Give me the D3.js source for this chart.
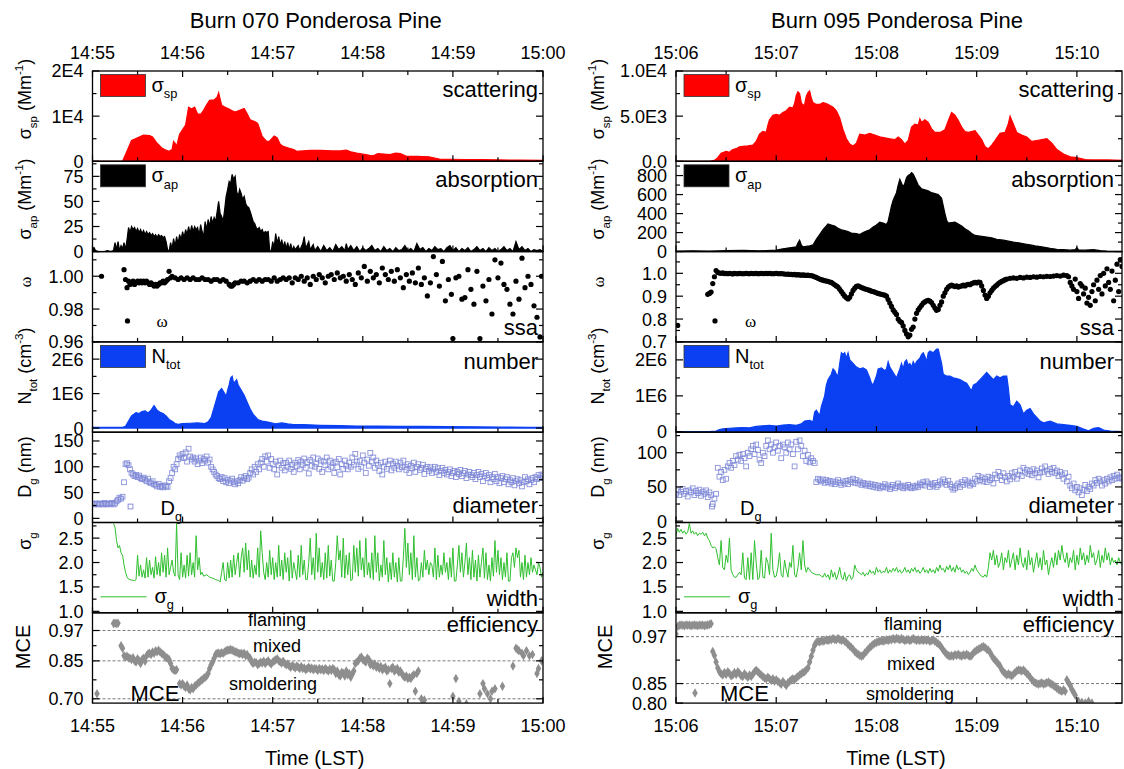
<!DOCTYPE html>
<html>
<head>
<meta charset="utf-8">
<script src="https://cdn.jsdelivr.net/npm/d3@7"></script>
<style>
  body { margin: 0; background: #fff; }
  svg { display: block; }
  text { font-family: "Liberation Sans", Arial, sans-serif; fill: #000; }
</style>
</head>
<body>
<script>
// ---- data: [seconds after start of the window, value] ----
// Burn 070 (window starts 14:55:00)
var sca070 = [[0,0],[20,0],[22,1500],[26,4600],[30,5200],[34,5800],[38,5700],[40,5400],[43,4000],[46,3000],[48,2600],[51,2200],[53,2600],[54,4400],[55,4000],[56,3300],[58,6000],[60,7000],[62,8000],[64,12000],[66,11600],[68,12000],[70,10500],[72,10400],[74,11300],[76,12500],[78,13500],[81,13600],[83,14200],[84,15200],[86,12400],[88,12000],[91,11600],[93,11200],[95,10900],[98,11300],[101,11700],[103,10500],[105,9200],[108,8800],[110,8400],[112,6500],[113,5500],[116,4400],[118,4500],[121,5600],[123,5200],[125,3800],[127,3300],[131,2900],[134,2600],[136,2200],[140,2300],[145,2400],[152,2400],[160,2300],[165,2300],[169,2500],[172,2100],[176,1800],[182,1500],[186,1200],[188,1400],[190,1700],[194,1600],[198,1500],[202,1800],[205,1700],[209,1100],[216,1100],[224,1000],[228,700],[231,500],[240,450],[248,400],[260,350],[271,300],[285,250],[300,200]];
var abs070 = [[0,3],[1,4],[2,1],[4,0],[8,0],[10,1],[12,0],[14,1],[15,9],[16,2],[17,10],[18,1],[19,6],[20,3],[21,9],[22,2],[23,12],[24,24],[25,19],[26,25],[27,22],[28,24],[29,20],[30,23],[31,19],[32,22],[33,18],[34,21],[35,17],[36,20],[37,17],[38,19],[39,16],[40,18],[41,15],[42,17],[43,14],[44,17],[45,15],[46,16],[47,14],[48,15],[49,10],[50,2],[51,0],[52,9],[53,3],[54,13],[55,5],[56,15],[57,8],[58,17],[59,12],[60,20],[61,14],[62,22],[63,17],[64,25],[65,18],[66,26],[67,20],[68,25],[69,22],[70,24],[71,16],[72,27],[73,20],[74,15],[75,30],[76,22],[77,32],[78,25],[79,35],[80,28],[81,34],[82,30],[83,40],[84,50],[85,38],[86,35],[87,30],[88,42],[89,55],[90,62],[91,70],[92,68],[93,77],[94,72],[95,75],[96,60],[97,55],[98,62],[99,58],[100,52],[101,55],[102,48],[103,45],[104,44],[105,40],[106,35],[107,30],[108,28],[109,24],[110,22],[111,24],[112,20],[113,22],[114,18],[115,20],[116,19],[117,20],[118,1],[119,0],[120,10],[121,4],[122,18],[123,8],[124,15],[125,6],[126,12],[127,4],[128,10],[129,3],[130,9],[131,2],[132,8],[133,1],[134,5],[135,2],[137,6],[138,1],[140,8],[141,15],[142,3],[144,10],[145,2],[147,7],[148,1],[150,5],[152,0],[154,6],[156,1],[158,4],[160,0],[162,7],[164,2],[166,5],[168,1],[169,8],[170,2],[172,6],[174,1],[176,5],[178,0],[180,4],[182,1],[184,3],[186,6],[188,1],[190,3],[192,0],[194,5],[196,1],[198,3],[200,0],[202,4],[204,1],[206,2],[208,6],[210,1],[212,3],[214,0],[216,8],[218,2],[220,4],[222,0],[224,3],[226,1],[228,5],[230,2],[232,3],[234,0],[236,4],[238,6],[240,1],[242,4],[244,0],[246,3],[248,1],[250,4],[252,0],[254,2],[256,5],[258,1],[260,3],[262,0],[264,4],[266,1],[268,3],[270,0],[272,2],[274,5],[276,1],[278,3],[280,0],[282,10],[284,2],[286,5],[288,1],[290,3],[292,0],[294,2],[296,1],[298,2],[300,0]];
var ssa070 = [[6,1.000],[21,1.004],[22,0.998],[23,0.993],[24,0.997],[25,0.995],[26,0.996],[27,0.997],[28,0.995],[29,0.996],[30,0.997],[31,0.996],[32,0.997],[33,0.996],[34,0.997],[35,0.996],[36,0.997],[37,0.996],[38,0.995],[39,0.996],[40,0.995],[41,0.994],[42,0.995],[43,0.994],[44,0.995],[45,0.996],[46,0.996],[47,0.997],[48,0.996],[49,0.997],[50,0.998],[51,1.003],[52,0.999],[53,1.000],[55,0.999],[57,0.998],[59,0.999],[61,0.998],[63,0.999],[65,0.998],[67,0.999],[69,0.998],[71,0.998],[73,0.999],[75,0.998],[77,0.998],[79,0.997],[81,0.998],[83,0.998],[85,0.997],[87,0.998],[89,0.997],[91,0.995],[92,0.994],[93,0.994],[94,0.995],[95,0.996],[97,0.996],[99,0.997],[101,0.997],[103,0.996],[105,0.997],[107,0.998],[109,0.997],[111,0.998],[113,0.997],[115,0.998],[117,0.998],[119,0.997],[121,0.999],[123,0.997],[125,0.998],[127,0.999],[129,0.998],[131,0.999],[133,0.996],[135,0.999],[137,0.998],[139,1.000],[141,0.997],[143,0.999],[145,0.995],[147,1.000],[149,0.998],[151,1.001],[153,0.999],[155,0.996],[157,1.000],[159,1.001],[161,0.998],[163,1.002],[165,0.999],[167,1.000],[169,0.997],[171,1.001],[173,0.998],[175,0.995],[177,1.002],[179,0.999],[181,1.006],[183,0.997],[185,1.003],[187,0.999],[189,1.001],[191,0.996],[193,1.005],[195,1.001],[197,0.998],[199,1.003],[201,0.997],[203,1.004],[205,0.999],[207,0.993],[209,1.001],[211,0.997],[213,1.002],[215,0.996],[217,1.005],[219,0.995],[221,0.999],[223,0.988],[225,0.996],[227,1.012],[229,1.001],[231,0.994],[233,1.009],[235,0.985],[237,0.998],[239,0.989],[240,0.962],[242,0.999],[244,1.000],[246,0.986],[248,0.987],[250,1.004],[252,0.992],[254,0.983],[256,1.003],[258,0.962],[260,0.994],[262,0.985],[264,0.998],[266,0.977],[268,1.010],[270,0.999],[272,1.008],[274,0.995],[276,0.992],[278,0.983],[280,0.977],[282,0.997],[284,0.986],[286,1.011],[288,0.993],[290,1.000],[292,0.995],[294,0.982],[296,0.975],[298,0.963],[299,1.000]];
var num070 = [[0,2e4],[20,2e4],[22,5e4],[24,2e5],[26,3.5e5],[29,4.5e5],[31,4.2e5],[33,4.8e5],[35,5e5],[37,4.4e5],[39,5.2e5],[41,6.5e5],[43,5.2e5],[45,4.6e5],[47,4.2e5],[49,3.5e5],[51,2.5e5],[53,2e5],[55,1.3e5],[57,1.1e5],[60,1.3e5],[65,1.4e5],[70,1.5e5],[75,1.3e5],[77,1.8e5],[79,3e5],[81,6e5],[83,9e5],[84,1.05e6],[86,1.15e6],[88,1.0e6],[89,0.92e6],[90,1.1e6],[91,1.25e6],[92,1.45e6],[93,1.5e6],[94,1.3e6],[95,1.35e6],[96,1.4e6],[97,1.25e6],[99,1.1e6],[101,0.95e6],[103,0.75e6],[105,0.55e6],[107,0.4e6],[110,0.25e6],[113,0.2e6],[116,0.18e6],[119,0.15e6],[122,0.12e6],[126,0.15e6],[130,0.12e6],[134,0.1e6],[140,0.1e6],[152,0.08e6],[165,0.07e6],[176,0.06e6],[190,0.06e6],[205,0.05e6],[220,0.05e6],[236,0.04e6],[255,0.035e6],[271,0.03e6],[290,0.02e6],[300,0.02e6]];
var dia070 = [[0,28],[1,27],[2,29],[3,28],[4,27],[5,29],[6,28],[7,27],[8,30],[9,28],[10,27],[11,29],[12,28],[13,30],[14,27],[15,29],[16,33],[17,36],[18,40],[19,38],[20,42],[21,70],[22,105],[23,107],[24,103],[25,95],[26,88],[27,85],[28,82],[29,84],[30,80],[31,83],[32,78],[33,76],[34,79],[35,75],[36,72],[37,77],[38,70],[39,68],[40,72],[41,66],[42,65],[43,62],[44,67],[45,61],[46,63],[47,60],[48,64],[49,62],[50,61],[51,72],[52,78],[53,88],[54,100],[55,95],[56,105],[57,115],[58,122],[59,118],[60,125],[61,117],[62,128],[63,110],[64,135],[65,120],[66,114],[67,118],[68,110],[69,116],[70,105],[71,112],[72,118],[73,107],[74,115],[75,112],[76,120],[77,108],[78,114],[79,100],[80,95],[81,90],[82,85],[83,82],[84,78],[85,76],[86,80],[87,72],[88,78],[89,70],[90,75],[91,68],[92,73],[93,77],[94,70],[95,66],[96,72],[97,68],[98,74],[99,80],[100,73],[101,78],[102,82],[103,76],[104,79],[105,88],[106,95],[107,85],[108,100],[109,90],[110,105],[111,95],[112,108],[113,115],[114,100],[115,120],[116,110],[117,122],[118,98],[119,115],[120,105],[121,95],[122,110],[123,85],[124,103],[125,112],[126,98],[127,107],[128,93],[129,108],[130,100],[131,112],[132,96],[133,104],[134,90],[135,108],[136,101],[137,113],[138,95],[139,110],[140,104],[141,116],[142,98],[143,109],[144,87],[145,113],[146,102],[147,118],[148,100],[149,106],[150,116],[151,96],[152,112],[153,90],[154,110],[155,103],[156,118],[157,95],[158,112],[159,100],[160,107],[161,88],[162,110],[163,99],[164,115],[165,85],[166,105],[167,96],[168,112],[169,102],[170,95],[171,108],[172,100],[173,118],[174,104],[175,125],[176,110],[177,96],[178,112],[179,100],[180,122],[181,108],[182,88],[183,114],[184,102],[185,127],[186,110],[187,118],[188,98],[189,112],[190,104],[191,92],[192,108],[193,85],[194,100],[195,110],[196,96],[197,105],[198,112],[199,93],[200,106],[201,98],[202,110],[203,102],[204,95],[205,108],[206,99],[207,112],[208,100],[209,94],[210,105],[211,88],[212,102],[213,97],[214,108],[215,90],[216,100],[217,105],[218,94],[219,98],[220,104],[221,86],[222,96],[223,100],[224,92],[225,99],[226,88],[227,95],[228,100],[229,90],[230,97],[231,84],[232,92],[233,98],[234,88],[235,94],[236,85],[237,90],[238,95],[239,82],[240,88],[241,92],[242,80],[243,90],[244,86],[245,94],[246,82],[247,88],[248,92],[249,78],[250,85],[251,90],[252,84],[253,80],[254,88],[255,76],[256,84],[257,90],[258,80],[259,86],[260,72],[261,82],[262,88],[263,78],[264,84],[265,70],[266,80],[267,76],[268,86],[269,72],[270,80],[271,68],[272,78],[273,82],[274,70],[275,76],[276,80],[277,66],[278,74],[279,70],[280,78],[281,64],[282,72],[283,76],[284,68],[285,74],[286,62],[287,70],[288,80],[289,72],[290,76],[291,66],[292,74],[293,78],[294,70],[295,80],[296,76],[297,84],[298,78],[299,85],[300,82]];
var wid070 = [[14,2.8],[15,2.72],[16,2.45],[17,2.3],[18,2.35],[19,2.2],[20,2.15],[21,1.95],[22,1.8],[23,1.7],[24,1.66],[26,1.64],[28,1.63],[29,1.65],[30,2.15],[31,1.72],[32,1.95],[33,1.7],[34,1.85],[35,1.68],[36,2.1],[37,1.7],[38,2.05],[39,1.75],[40,1.9],[41,1.68],[42,2.12],[43,1.75],[44,2.0],[45,1.72],[46,2.2],[47,1.8],[48,2.15],[49,1.7],[50,2.3],[51,1.75],[52,1.9],[53,2.05],[54,1.8],[55,1.72],[56,2.8],[57,1.75],[58,1.65],[59,2.2],[60,1.7],[61,1.95],[62,1.68],[63,2.15],[64,1.72],[65,2.2],[66,1.75],[67,2.0],[68,1.7],[69,2.55],[70,1.85],[71,2.1],[72,1.75],[73,1.8],[74,1.72],[76,1.75],[78,1.7],[80,1.68],[82,1.65],[84,1.63],[85,1.6],[86,1.8],[87,2.0],[88,1.65],[89,1.62],[90,2.0],[91,1.68],[92,2.05],[93,1.7],[94,2.15],[95,1.75],[96,2.0],[97,2.2],[98,1.7],[99,2.1],[100,2.3],[101,1.8],[102,2.4],[103,1.85],[104,2.25],[105,1.7],[106,2.05],[107,1.68],[108,1.95],[109,1.75],[110,2.3],[111,1.7],[112,2.65],[113,2.2],[114,1.8],[115,1.65],[116,2.0],[117,1.7],[118,2.25],[119,1.75],[120,2.1],[121,1.65],[122,2.0],[123,1.7],[124,2.35],[125,1.72],[126,2.05],[127,1.65],[128,2.2],[129,1.8],[130,2.1],[131,1.62],[132,2.25],[133,1.68],[134,2.0],[136,1.65],[137,2.15],[138,1.7],[139,2.35],[140,1.75],[141,2.05],[142,1.65],[143,1.65],[144,2.0],[145,2.5],[146,1.75],[147,2.1],[148,1.65],[149,2.6],[150,1.8],[151,2.3],[152,1.7],[153,2.0],[154,1.65],[155,2.2],[156,1.68],[157,2.35],[158,1.72],[159,2.05],[160,1.62],[161,1.62],[162,2.0],[163,2.55],[164,2.05],[165,2.25],[166,1.7],[167,2.5],[168,1.68],[169,2.15],[170,1.75],[171,2.2],[172,1.63],[173,1.65],[174,2.35],[175,1.8],[176,2.3],[177,1.72],[178,2.45],[179,1.85],[180,2.1],[181,1.7],[182,2.5],[183,1.75],[184,2.0],[185,1.68],[186,2.2],[187,1.65],[188,2.55],[189,1.8],[190,2.2],[191,1.62],[192,1.95],[193,1.7],[194,2.45],[195,1.75],[196,2.1],[197,1.6],[198,2.0],[199,1.65],[200,2.2],[201,1.7],[202,2.0],[203,1.6],[204,2.1],[205,1.62],[206,1.62],[207,2.1],[208,2.7],[209,1.9],[210,2.4],[211,1.75],[212,2.2],[213,1.65],[214,2.55],[215,1.7],[216,2.1],[217,1.62],[218,1.65],[219,2.0],[220,1.7],[221,2.25],[222,1.85],[223,2.05],[224,1.75],[225,2.0],[226,1.95],[227,1.7],[228,2.3],[229,1.65],[230,2.15],[231,1.7],[232,1.95],[233,1.75],[234,2.2],[235,1.8],[236,2.0],[237,1.65],[238,2.1],[239,1.7],[240,2.3],[241,1.62],[242,1.62],[243,1.95],[244,2.35],[245,1.8],[246,2.2],[247,1.7],[248,2.0],[249,2.4],[250,1.75],[251,2.1],[252,1.65],[253,2.25],[254,1.7],[255,2.05],[256,1.62],[257,2.15],[258,1.7],[259,2.0],[260,2.3],[261,1.68],[262,2.2],[263,1.65],[264,1.95],[265,1.62],[266,2.1],[267,1.72],[268,2.45],[269,1.8],[270,2.25],[271,1.75],[272,2.1],[273,1.65],[274,2.0],[275,1.7],[276,2.2],[277,1.62],[278,1.62],[279,2.1],[280,2.2],[281,1.9],[282,2.3],[283,2.1],[284,2.25],[285,1.7],[286,2.0],[287,1.65],[288,2.15],[289,1.7],[290,2.0],[291,1.75],[292,2.1],[293,1.8],[294,1.95],[295,1.85],[296,1.75],[297,2.0],[298,1.9],[299,1.7],[300,1.8]];
var mce070 = [[3,0.72],[14,0.998],[15,0.999],[16,0.998],[17,0.999],[19,0.91],[20,0.90],[21,0.87],[22,0.865],[23,0.868],[24,0.862],[25,0.86],[26,0.855],[27,0.862],[28,0.85],[29,0.845],[30,0.858],[31,0.85],[32,0.84],[33,0.855],[34,0.86],[35,0.848],[36,0.87],[37,0.878],[38,0.88],[39,0.875],[40,0.885],[41,0.88],[42,0.89],[43,0.886],[44,0.892],[45,0.885],[46,0.88],[47,0.875],[48,0.87],[49,0.862],[50,0.86],[51,0.855],[52,0.84],[53,0.82],[54,0.815],[55,0.812],[56,0.815],[58,0.76],[59,0.755],[60,0.76],[61,0.75],[62,0.745],[63,0.755],[64,0.74],[65,0.735],[66,0.745],[67,0.74],[68,0.75],[69,0.755],[70,0.76],[71,0.765],[72,0.77],[73,0.775],[74,0.78],[75,0.785],[76,0.79],[77,0.80],[78,0.82],[79,0.835],[80,0.845],[81,0.86],[82,0.875],[83,0.88],[84,0.88],[85,0.878],[86,0.882],[87,0.88],[88,0.885],[89,0.89],[90,0.892],[91,0.893],[92,0.895],[93,0.892],[94,0.89],[95,0.885],[96,0.885],[97,0.88],[98,0.878],[99,0.88],[100,0.875],[101,0.88],[102,0.87],[103,0.875],[104,0.865],[105,0.86],[106,0.845],[107,0.84],[108,0.845],[109,0.843],[110,0.835],[111,0.84],[112,0.845],[113,0.842],[114,0.848],[115,0.84],[116,0.845],[117,0.85],[118,0.843],[119,0.838],[120,0.845],[121,0.85],[122,0.853],[123,0.858],[124,0.85],[125,0.845],[126,0.842],[127,0.848],[128,0.84],[129,0.835],[130,0.838],[131,0.83],[132,0.825],[133,0.832],[134,0.828],[135,0.822],[136,0.83],[137,0.825],[138,0.82],[139,0.828],[140,0.82],[141,0.822],[142,0.815],[143,0.82],[144,0.825],[145,0.818],[146,0.822],[147,0.815],[148,0.82],[149,0.818],[150,0.812],[151,0.82],[152,0.815],[153,0.818],[154,0.812],[155,0.82],[156,0.815],[157,0.81],[158,0.818],[159,0.812],[160,0.82],[161,0.815],[162,0.80],[163,0.81],[164,0.795],[165,0.79],[166,0.805],[167,0.80],[168,0.79],[169,0.81],[170,0.795],[171,0.80],[172,0.785],[173,0.798],[174,0.81],[175,0.84],[176,0.845],[177,0.85],[178,0.86],[179,0.865],[180,0.855],[181,0.85],[182,0.845],[183,0.86],[184,0.855],[185,0.835],[186,0.84],[187,0.83],[188,0.838],[189,0.825],[190,0.83],[191,0.82],[192,0.828],[193,0.815],[194,0.82],[195,0.825],[196,0.81],[197,0.815],[198,0.76],[199,0.82],[200,0.825],[201,0.81],[202,0.815],[203,0.82],[204,0.805],[205,0.81],[206,0.80],[207,0.79],[208,0.785],[209,0.79],[210,0.78],[211,0.785],[212,0.78],[213,0.79],[214,0.795],[215,0.73],[216,0.80],[217,0.81],[219,0.70],[220,0.69],[221,0.695],[240,0.71],[242,0.78],[244,0.69],[249,0.68],[258,0.72],[260,0.76],[261,0.74],[263,0.72],[265,0.70],[266,0.73],[268,0.74],[273,0.75],[280,0.83],[282,0.90],[283,0.895],[284,0.89],[286,0.88],[287,0.87],[289,0.89],[291,0.87],[293,0.875],[296,0.80],[297,0.82],[299,0.85]];

// Burn 095 (window starts 15:06:00)
var sca095 = [[0,0],[20,0],[23,100],[25,400],[27,900],[30,1100],[32,1000],[34,1300],[36,1400],[38,1600],[40,1650],[43,1700],[46,1800],[48,2200],[50,3000],[52,3300],[54,3200],[55,4000],[56,4600],[58,5100],[60,5200],[62,5100],[64,5400],[66,5600],[68,6000],[70,5900],[71,6400],[72,7300],[73,7700],[74,7500],[75,6500],[76,6200],[77,6300],[78,7200],[79,7600],[80,7800],[81,7000],[82,6500],[84,6300],[86,6300],[88,6500],[90,6400],[92,6200],[94,6000],[96,5600],[98,4800],[100,3500],[102,2500],[104,1900],[106,1700],[108,2000],[110,3000],[113,2900],[116,3100],[119,2900],[122,2700],[125,2600],[128,2500],[131,2400],[133,2700],[135,2400],[137,1900],[139,2300],[141,3800],[143,4100],[145,4000],[146,4700],[147,4300],[149,4600],[151,4300],[153,3600],[155,3200],[158,3200],[161,3500],[163,4500],[165,5400],[167,5100],[169,4500],[171,3800],[173,3300],[175,3200],[177,3300],[179,3400],[181,2900],[183,2400],[185,1600],[187,1400],[189,1800],[191,2300],[194,3100],[197,3200],[199,4200],[200,5000],[202,4100],[204,3200],[207,2900],[210,2700],[213,2200],[216,2300],[219,2400],[222,2500],[225,2000],[228,1300],[232,800],[236,500],[240,400],[245,200],[250,150],[258,150],[267,100]];
var abs095 = [[0,5],[10,8],[20,5],[30,10],[40,12],[50,8],[60,15],[64,30],[68,40],[72,50],[73,90],[74,120],[75,70],[76,50],[78,55],[80,60],[82,70],[84,130],[86,180],[88,230],[90,270],[91,290],[93,280],[95,270],[97,245],[99,230],[101,220],[103,210],[105,195],[108,190],[110,180],[112,200],[114,215],[116,230],[118,260],[120,280],[122,310],[124,300],[126,285],[127,320],[128,400],[129,480],[130,540],[131,580],[132,620],[133,700],[134,760],[135,720],[136,680],[137,720],[138,780],[139,800],[140,810],[141,830],[142,815],[143,780],[144,740],[145,700],[146,680],[147,660],[149,650],[151,640],[153,620],[155,610],[157,600],[159,560],[160,480],[161,400],[162,330],[163,300],[165,305],[167,310],[169,290],[171,270],[173,240],[175,220],[177,190],[179,170],[181,165],[183,160],[185,155],[187,150],[189,145],[192,130],[196,120],[199,110],[202,100],[206,90],[209,80],[212,70],[215,60],[219,50],[224,35],[228,25],[232,20],[236,15],[239,20],[240,40],[241,18],[245,15],[250,20],[254,10],[258,5],[267,3]];
var ssa095 = [[1,0.772],[19,0.908],[20,0.912],[21,0.918],[22,0.955],[23,0.985],[24,1.012],[25,1.004],[26,1.001],[27,1.0],[28,1.002],[29,0.999],[30,1.0],[31,0.998],[32,1.0],[33,0.999],[34,0.997],[35,1.0],[36,0.999],[37,0.998],[38,1.0],[39,0.999],[40,0.998],[41,0.999],[42,1.0],[43,0.999],[44,0.998],[45,1.0],[46,0.999],[47,0.999],[48,1.0],[49,0.998],[50,0.999],[51,1.0],[52,0.999],[53,0.999],[54,1.0],[55,0.999],[56,1.0],[57,0.999],[58,0.998],[59,0.999],[60,1.0],[61,0.999],[62,0.998],[63,0.999],[64,0.998],[65,0.997],[66,0.996],[67,0.997],[68,0.995],[69,0.996],[70,0.994],[71,0.995],[72,0.993],[73,0.994],[74,0.993],[75,0.992],[76,0.993],[77,0.992],[78,0.991],[79,0.992],[80,0.99],[81,0.99],[82,0.988],[83,0.985],[84,0.982],[85,0.978],[86,0.975],[87,0.972],[88,0.97],[89,0.968],[90,0.966],[91,0.965],[92,0.962],[93,0.96],[94,0.955],[95,0.95],[96,0.945],[97,0.94],[98,0.93],[99,0.92],[100,0.91],[101,0.90],[102,0.893],[103,0.888],[104,0.895],[105,0.91],[106,0.925],[107,0.935],[108,0.943],[109,0.945],[110,0.942],[111,0.938],[112,0.935],[113,0.932],[114,0.93],[115,0.928],[116,0.925],[117,0.922],[118,0.92],[119,0.918],[120,0.915],[121,0.912],[122,0.91],[123,0.908],[124,0.906],[125,0.905],[126,0.9],[127,0.885],[128,0.87],[129,0.855],[130,0.84],[131,0.83],[132,0.82],[133,0.8],[134,0.79],[135,0.785],[136,0.77],[137,0.75],[138,0.735],[139,0.722],[140,0.73],[141,0.755],[142,0.765],[143,0.8],[144,0.825],[145,0.84],[146,0.85],[147,0.86],[148,0.87],[149,0.875],[150,0.88],[151,0.882],[152,0.878],[153,0.872],[154,0.86],[155,0.848],[156,0.838],[157,0.842],[158,0.86],[159,0.875],[160,0.9],[161,0.915],[162,0.93],[163,0.94],[164,0.945],[165,0.948],[166,0.945],[167,0.942],[168,0.945],[169,0.94],[170,0.943],[171,0.945],[172,0.948],[173,0.945],[174,0.95],[175,0.952],[176,0.95],[177,0.955],[178,0.958],[179,0.96],[180,0.958],[181,0.962],[182,0.96],[183,0.945],[184,0.925],[185,0.905],[186,0.89],[187,0.9],[188,0.915],[189,0.925],[190,0.935],[191,0.942],[192,0.948],[193,0.955],[194,0.96],[195,0.965],[196,0.968],[197,0.972],[198,0.975],[200,0.978],[202,0.98],[204,0.978],[206,0.982],[208,0.98],[210,0.983],[212,0.982],[214,0.985],[216,0.983],[218,0.986],[220,0.985],[222,0.987],[224,0.986],[226,0.988],[228,0.99],[230,0.988],[232,0.992],[234,0.99],[235,0.985],[236,0.96],[237,0.945],[238,0.93],[239,0.975],[240,0.92],[241,0.89],[242,0.955],[243,0.945],[244,0.91],[245,0.935],[246,0.87],[247,0.895],[248,0.86],[249,0.92],[250,0.95],[251,0.88],[252,0.97],[253,0.93],[254,0.99],[255,0.91],[256,1.0],[257,0.945],[258,1.02],[259,0.96],[260,0.93],[261,1.01],[262,0.88],[263,0.97],[264,1.04],[265,0.92],[266,1.06],[267,1.03]];
var num095 = [[0,5e3],[20,5e3],[24,2e4],[26,6e4],[28,8e4],[32,1e5],[36,1.1e5],[40,1.2e5],[44,1.1e5],[48,1.5e5],[52,1.7e5],[56,1.8e5],[60,1.6e5],[64,1.9e5],[68,2e5],[72,1.8e5],[75,2.2e5],[77,3e5],[80,3.2e5],[82,2.8e5],[83,5.5e5],[84,6e5],[86,4.5e5],[87,7e5],[89,1e6],[90,1.3e6],[91,1.45e6],[93,1.6e6],[94,1.75e6],[95,1.7e6],[96,1.6e6],[97,1.55e6],[98,1.9e6],[99,2.2e6],[100,2.15e6],[101,2.2e6],[102,2.05e6],[103,2.2e6],[104,2.0e6],[105,1.95e6],[106,1.9e6],[108,1.8e6],[110,1.75e6],[112,1.78e6],[114,1.72e6],[116,1.5e6],[117,1.35e6],[118,1.3e6],[120,1.55e6],[121,1.75e6],[123,1.78e6],[125,1.7e6],[126,1.75e6],[127,1.95e6],[128,1.8e6],[130,1.65e6],[132,1.5e6],[134,1.75e6],[135,1.9e6],[136,1.75e6],[137,1.95e6],[138,2.0e6],[139,1.85e6],[140,1.9e6],[141,1.8e6],[142,1.95e6],[143,1.85e6],[144,1.95e6],[146,2.05e6],[147,2.15e6],[148,2.2e6],[149,2.1e6],[150,1.95e6],[151,2.2e6],[152,2.25e6],[154,2.2e6],[156,2.3e6],[157,2.3e6],[158,2.1e6],[159,1.9e6],[160,1.6e6],[162,1.55e6],[164,1.55e6],[166,1.5e6],[168,1.48e6],[170,1.45e6],[172,1.4e6],[174,1.35e6],[176,1.2e6],[177,1.15e6],[178,1.3e6],[180,1.35e6],[182,1.45e6],[184,1.55e6],[186,1.65e6],[188,1.55e6],[190,1.45e6],[192,1.55e6],[194,1.5e6],[196,1.55e6],[198,1.55e6],[199,1.2e6],[200,0.75e6],[202,0.7e6],[204,0.85e6],[206,0.75e6],[208,0.5e6],[210,0.6e6],[212,0.65e6],[214,0.5e6],[216,0.4e6],[218,0.3e6],[220,0.25e6],[224,0.3e6],[228,0.22e6],[232,0.2e6],[236,0.18e6],[240,0.15e6],[244,0.08e6],[247,0.03e6],[250,0.1e6],[253,0.12e6],[256,0.05e6],[260,0.02e6],[267,0.01e6]];
var dia095 = [[0,40],[1,45],[2,38],[3,43],[4,47],[5,40],[6,44],[7,36],[8,45],[9,42],[10,48],[11,38],[12,44],[13,41],[14,46],[15,37],[16,43],[17,40],[18,45],[19,35],[20,42],[21,38],[22,25],[23,33],[24,40],[25,78],[26,65],[27,72],[28,60],[29,75],[30,62],[31,80],[32,85],[33,78],[34,88],[35,82],[36,95],[37,90],[38,97],[39,88],[40,98],[41,92],[42,80],[43,100],[44,95],[45,105],[46,110],[47,98],[48,112],[49,104],[50,90],[51,85],[52,100],[53,95],[54,110],[55,118],[56,105],[57,112],[58,100],[59,108],[60,115],[61,103],[62,110],[63,92],[64,112],[65,108],[66,100],[67,115],[68,105],[69,112],[70,98],[71,80],[72,116],[73,105],[74,118],[75,110],[76,95],[77,103],[78,88],[79,97],[80,86],[81,92],[82,88],[83,85],[84,57],[85,62],[86,60],[87,58],[88,61],[89,56],[90,60],[91,57],[92,59],[93,55],[94,58],[95,54],[96,57],[97,60],[98,56],[99,53],[100,58],[101,55],[102,59],[103,54],[104,60],[105,57],[106,62],[107,56],[108,60],[109,55],[110,58],[111,53],[112,56],[113,54],[114,52],[115,55],[116,51],[117,54],[118,50],[119,53],[120,49],[121,52],[122,48],[123,51],[124,50],[125,54],[126,49],[127,52],[128,47],[129,50],[130,53],[131,48],[132,51],[133,55],[134,50],[135,52],[136,48],[137,51],[138,49],[139,53],[140,50],[141,48],[142,51],[143,49],[144,52],[145,50],[146,55],[147,53],[148,57],[149,52],[150,58],[151,55],[152,50],[153,54],[154,52],[155,56],[156,50],[157,53],[158,58],[159,55],[160,61],[161,57],[162,53],[163,59],[164,54],[165,50],[166,46],[167,48],[168,52],[169,55],[170,50],[171,57],[172,53],[173,60],[174,55],[175,58],[176,52],[177,56],[178,54],[179,62],[180,58],[181,66],[182,60],[183,64],[184,58],[185,62],[186,57],[187,65],[188,60],[189,63],[190,55],[191,68],[192,63],[193,72],[194,66],[195,60],[196,70],[197,64],[198,58],[199,66],[200,61],[201,70],[202,65],[203,72],[204,62],[205,68],[206,74],[207,66],[208,78],[209,71],[210,75],[211,69],[212,73],[213,67],[214,76],[215,70],[216,74],[217,64],[218,71],[219,77],[220,72],[221,80],[222,74],[223,69],[224,76],[225,72],[226,78],[227,70],[228,74],[229,66],[230,72],[231,68],[232,62],[233,70],[234,58],[235,65],[236,52],[237,48],[238,55],[239,45],[240,50],[241,42],[242,48],[243,38],[244,46],[245,53],[246,44],[247,50],[248,47],[249,55],[250,52],[251,60],[252,56],[253,62],[254,58],[255,52],[256,60],[257,55],[258,62],[259,58],[260,64],[261,60],[262,66],[263,62],[264,68],[265,63],[266,65],[267,62]];
var wid095 = [[0,2.55],[1,2.7],[2,2.62],[3,2.68],[4,2.6],[5,2.65],[6,2.58],[7,2.62],[8,2.8],[9,2.6],[10,2.65],[11,2.58],[12,2.62],[13,2.55],[14,2.6],[15,2.58],[16,2.62],[17,2.55],[18,2.6],[19,2.5],[20,2.45],[21,2.35],[22,2.3],[23,2.32],[24,2.28],[25,2.1],[26,1.95],[27,2.45],[28,1.9],[29,1.85],[30,2.15],[31,2.0],[32,2.5],[33,1.85],[34,1.75],[35,1.7],[36,1.7],[37,1.75],[38,1.8],[39,1.75],[40,2.2],[41,1.68],[42,1.65],[43,2.1],[44,1.65],[45,2.2],[46,1.65],[47,2.45],[48,2.0],[49,1.65],[50,1.7],[51,2.25],[52,1.7],[53,1.68],[54,2.1],[55,2.0],[56,1.75],[57,2.6],[58,1.85],[59,1.7],[60,1.72],[61,1.9],[62,2.2],[63,1.75],[64,1.7],[65,2.05],[66,1.85],[67,1.7],[68,2.0],[69,1.9],[70,2.35],[71,1.75],[72,1.7],[73,1.9],[74,2.2],[75,1.85],[76,2.45],[77,1.95],[78,1.8],[79,1.9],[80,1.85],[81,1.8],[82,1.78],[84,1.75],[86,1.75],[87,1.72],[88,1.7],[89,1.78],[90,1.7],[91,1.75],[92,1.65],[93,1.85],[94,1.7],[95,1.8],[96,1.65],[97,1.75],[98,1.9],[99,1.7],[100,1.65],[101,1.8],[102,1.62],[103,1.72],[104,1.75],[105,1.65],[106,1.7],[107,1.95],[108,1.85],[109,1.8],[110,1.78],[111,1.75],[112,1.8],[113,1.72],[114,1.78],[115,1.75],[116,1.85],[117,1.78],[118,1.82],[119,1.75],[120,1.9],[121,1.8],[122,1.85],[123,1.78],[124,1.82],[125,1.8],[126,1.9],[127,1.78],[128,1.85],[129,1.8],[130,1.88],[131,1.82],[132,1.9],[133,1.8],[134,1.85],[135,1.78],[136,1.82],[137,1.9],[138,1.8],[139,1.85],[140,1.78],[141,1.88],[142,1.82],[143,1.9],[144,1.8],[145,1.85],[146,1.78],[147,1.82],[148,1.9],[149,1.8],[150,1.85],[151,1.78],[152,1.88],[153,1.8],[154,1.85],[155,1.78],[156,1.9],[157,1.82],[158,1.95],[159,1.85],[160,1.88],[161,1.8],[162,1.92],[163,1.85],[164,1.95],[165,1.82],[166,1.9],[167,1.8],[168,1.95],[169,1.85],[170,1.9],[171,1.8],[172,1.85],[173,1.78],[174,1.82],[175,1.75],[176,1.8],[177,1.88],[178,1.82],[179,1.95],[180,1.85],[181,1.8],[182,1.75],[183,1.72],[184,1.7],[185,1.75],[186,1.7],[187,1.9],[188,2.2],[189,2.05],[190,2.25],[191,1.95],[192,2.15],[193,1.9],[194,2.0],[195,2.2],[196,1.85],[197,2.1],[198,2.0],[199,2.25],[200,1.9],[201,2.05],[202,2.2],[203,1.85],[204,2.15],[205,1.95],[206,2.3],[207,2.0],[208,1.9],[209,2.1],[210,1.85],[211,2.25],[212,1.95],[213,2.1],[214,1.8],[215,2.0],[216,2.2],[217,1.9],[218,2.1],[219,1.85],[220,2.25],[221,1.95],[222,2.05],[223,1.75],[224,1.95],[225,2.1],[226,1.9],[227,2.2],[228,1.95],[229,2.25],[230,2.05],[231,2.35],[232,2.1],[233,2.0],[234,2.2],[235,1.9],[236,2.1],[237,2.0],[238,2.25],[239,1.85],[240,2.15],[241,1.95],[242,2.3],[243,2.05],[244,2.2],[245,1.95],[246,2.15],[247,2.0],[248,2.35],[249,2.1],[250,2.2],[251,1.95],[252,2.05],[253,2.25],[254,1.9],[255,2.15],[256,2.0],[257,2.3],[258,2.05],[259,2.2],[260,1.95],[261,2.1],[262,2.0],[263,2.05],[264,1.95],[265,2.1],[266,2.0],[267,1.95]];
var mce095 = [[0,0.977],[1,0.996],[2,0.999],[3,1.0],[4,0.999],[5,0.998],[6,1.0],[7,0.999],[8,1.0],[9,0.998],[10,0.999],[11,1.0],[12,0.999],[13,0.998],[14,1.0],[15,0.999],[16,1.0],[17,0.998],[18,0.999],[19,1.0],[20,1.001],[21,1.003],[22,0.932],[23,0.922],[24,0.905],[25,0.89],[26,0.88],[27,0.875],[28,0.872],[29,0.878],[30,0.873],[31,0.88],[32,0.876],[33,0.87],[34,0.872],[35,0.878],[36,0.873],[37,0.88],[38,0.876],[39,0.87],[40,0.868],[41,0.875],[42,0.87],[43,0.866],[44,0.872],[45,0.868],[46,0.874],[47,0.88],[48,0.884],[49,0.88],[50,0.876],[51,0.872],[52,0.868],[53,0.864],[54,0.862],[55,0.866],[56,0.862],[57,0.858],[58,0.862],[59,0.856],[60,0.86],[61,0.855],[62,0.852],[63,0.848],[64,0.855],[65,0.85],[66,0.845],[67,0.852],[68,0.855],[69,0.86],[70,0.862],[71,0.86],[72,0.865],[73,0.868],[74,0.872],[75,0.875],[76,0.878],[77,0.88],[78,0.885],[79,0.89],[80,0.905],[81,0.92],[82,0.935],[83,0.948],[84,0.955],[85,0.958],[86,0.956],[87,0.96],[88,0.958],[89,0.96],[90,0.962],[91,0.96],[92,0.963],[93,0.962],[94,0.965],[95,0.963],[96,0.962],[97,0.965],[98,0.963],[99,0.96],[100,0.962],[101,0.958],[102,0.955],[103,0.95],[104,0.946],[105,0.942],[106,0.938],[107,0.932],[108,0.928],[109,0.925],[110,0.922],[111,0.92],[112,0.922],[113,0.928],[114,0.932],[115,0.938],[116,0.942],[117,0.946],[118,0.95],[119,0.953],[120,0.955],[121,0.957],[122,0.958],[123,0.96],[124,0.958],[125,0.96],[126,0.962],[127,0.96],[128,0.963],[129,0.962],[130,0.965],[131,0.963],[132,0.966],[133,0.964],[134,0.962],[135,0.965],[136,0.963],[137,0.96],[138,0.962],[139,0.963],[140,0.96],[141,0.962],[142,0.965],[143,0.963],[144,0.96],[145,0.962],[146,0.96],[147,0.963],[148,0.96],[149,0.962],[150,0.96],[151,0.962],[152,0.958],[153,0.96],[154,0.962],[155,0.958],[156,0.955],[157,0.952],[158,0.948],[159,0.942],[160,0.935],[161,0.93],[162,0.925],[163,0.922],[164,0.92],[165,0.922],[166,0.92],[167,0.924],[168,0.922],[169,0.925],[170,0.922],[171,0.92],[172,0.924],[173,0.922],[174,0.925],[175,0.922],[176,0.92],[177,0.922],[178,0.928],[179,0.932],[180,0.935],[181,0.938],[182,0.94],[183,0.943],[184,0.945],[185,0.942],[186,0.938],[187,0.935],[188,0.93],[189,0.922],[190,0.915],[191,0.91],[192,0.905],[193,0.9],[194,0.895],[195,0.885],[196,0.88],[197,0.876],[198,0.872],[199,0.875],[200,0.872],[201,0.87],[202,0.874],[203,0.878],[204,0.882],[205,0.885],[206,0.884],[207,0.882],[208,0.885],[209,0.88],[210,0.876],[211,0.872],[212,0.866],[213,0.86],[214,0.855],[215,0.852],[216,0.85],[217,0.848],[218,0.85],[219,0.852],[220,0.848],[221,0.85],[222,0.852],[223,0.854],[224,0.85],[225,0.848],[226,0.845],[227,0.842],[228,0.838],[229,0.835],[230,0.832],[231,0.83],[232,0.834],[233,0.83],[234,0.86],[235,0.852],[236,0.845],[237,0.835],[238,0.828],[239,0.82],[241,0.805],[243,0.802],[245,0.8],[247,0.805],[249,0.8]];

// ---- layout ----
var W = 1124, H = 769;
var panelTop = 71, panelH = 90.3;
var svg = d3.select("body").append("svg").attr("width", W).attr("height", H);
var defs = svg.append("defs");

function day(h, m, s) { return new Date(2017, 0, 1, h, m, s); }

// y-axis titles: [text, "sub"|"sup"|undefined]
var yTitles = [
  { parts: [["σ"], ["sp", "sub"], [" (Mm"], ["-1", "sup"], [")"]], cy: 99 },
  { parts: [["σ"], ["ap", "sub"], [" (Mm"], ["-1", "sup"], [")"]], cy: 199 },
  { parts: [["ω"]], cy: 282, serif: true },
  { parts: [["N"], ["tot", "sub"], [" (cm"], ["-3", "sup"], [")"]], cy: 366 },
  { parts: [["D"], ["g", "sub"], [" (nm)"]], cy: 467 },
  { parts: [["σ"], ["g", "sub"]], cy: 541 },
  { parts: [["MCE"]], cy: 647 }
];

var columns = [
  { x0: 92.5, x1: 543, start: day(14,55,0), end: day(15,0,0), title: "Burn 070 Ponderosa Pine",
    titleX: 31, mceTitleX: 30, rightPad: 5, ssaDot: 35, ssaText: 70, diaSq: 38, diaText: 68, mceSym: null, mceText: 38,
    zones: [[277, 626, "flaming"], [277, 652, "mixed"], [273, 690, "smoldering"]],
    panels: [
      { kind: "area", data: sca070, color: "#ff0000", domain: [0, 2e4], ticks: [0, 1e4, 2e4], labels: ["0", "1E4", "2E4"], minor: [5e3, 1.5e4] },
      { kind: "area", data: abs070, color: "#000000", domain: [0, 90], ticks: [0, 25, 50, 75], labels: ["0", "25", "50", "75"], minor: [12.5, 37.5, 62.5, 87.5] },
      { kind: "dots", data: ssa070, domain: [0.96, 1.015], ticks: [0.96, 0.98, 1.00], labels: ["0.96", "0.98", "1.00"], minor: [0.97, 0.99, 1.01] },
      { kind: "area", data: num070, color: "#0a40f2", domain: [-1.2e5, 2.5e6], ticks: [0, 1e6, 2e6], labels: ["0", "1E6", "2E6"], minor: [5e5, 1.5e6] },
      { kind: "squares", data: dia070, domain: [-8, 167], ticks: [0, 50, 100, 150], labels: ["0", "50", "100", "150"], minor: [25, 75, 125] },
      { kind: "line", data: wid070, domain: [0.97, 2.82], ticks: [1.0, 1.5, 2.0, 2.5], labels: ["1.0", "1.5", "2.0", "2.5"], minor: [1.25, 1.75, 2.25, 2.75] },
      { kind: "diamonds", data: mce070, domain: [0.683, 1.04], ticks: [0.70, 0.85, 0.97], labels: ["0.70", "0.85", "0.97"], minor: [0.775, 0.91], dashes: [0.97, 0.85, 0.70] }
    ] },
  { x0: 676, x1: 1122, start: day(15,6,0), end: day(15,10,27), title: "Burn 095 Ponderosa Pine",
    titleX: 604, mceTitleX: 612, rightPad: 8, ssaDot: 39, ssaText: 75, diaSq: 36, diaText: 64, mceSym: 19, mceText: 44,
    zones: [[913, 630, "flaming"], [911, 670, "mixed"], [910, 700, "smoldering"]],
    panels: [
      { kind: "area", data: sca095, color: "#ff0000", domain: [0, 1e4], ticks: [0, 5e3, 1e4], labels: ["0.0", "5.0E3", "1.0E4"], minor: [2.5e3, 7.5e3] },
      { kind: "area", data: abs095, color: "#000000", domain: [0, 950], ticks: [0, 200, 400, 600, 800], labels: ["0", "200", "400", "600", "800"], minor: [100, 300, 500, 700, 900] },
      { kind: "dots", data: ssa095, domain: [0.7, 1.095], ticks: [0.7, 0.8, 0.9, 1.0], labels: ["0.7", "0.8", "0.9", "1.0"], minor: [0.75, 0.85, 0.95, 1.05] },
      { kind: "area", data: num095, color: "#0a40f2", domain: [-1e4, 2.5e6], ticks: [0, 1e6, 2e6], labels: ["0", "1E6", "2E6"], minor: [5e5, 1.5e6] },
      { kind: "squares", data: dia095, domain: [-2, 130], ticks: [0, 50, 100], labels: ["0", "50", "100"], minor: [25, 75, 125] },
      { kind: "line", data: wid095, domain: [0.97, 2.82], ticks: [1.0, 1.5, 2.0, 2.5], labels: ["1.0", "1.5", "2.0", "2.5"], minor: [1.25, 1.75, 2.25, 2.75] },
      { kind: "diamonds", data: mce095, domain: [0.80, 1.031], ticks: [0.80, 0.85, 0.97], labels: ["0.80", "0.85", "0.97"], minor: [0.91], dashes: [0.97, 0.85] }
    ] }
];

var legendSym = [["σ", "sp"], ["σ", "ap"], null, ["N", "tot"], null, ["σ", "g"], null];
var sideLabels = ["scattering", "absorption", "ssa", "number", "diameter", "width", "efficiency"];

function rich(sel, parts, size) {
  var shift = 0;
  parts.forEach(function(p) {
    var target = 0, fs = size;
    if (p[1] == "sub") { fs = size * 0.64; target = size * 0.32; }
    if (p[1] == "sup") { fs = size * 0.64; target = -size * 0.42; }
    sel.append("tspan").attr("dy", target - shift).attr("font-size", fs).text(p[0]);
    shift = target;
  });
}

columns.forEach(function(col, ci) {
  var x = d3.scaleTime().domain([col.start, col.end]).range([col.x0, col.x1]);
  var toX = function(s) { return x(new Date(col.start.getTime() + s * 1000)); };
  var halfTicks = x.ticks(d3.timeSecond.every(30));
  var g = svg.append("g");

  // column title
  g.append("text").attr("x", (col.x0 + col.x1) / 2 - 2).attr("y", 28)
    .attr("text-anchor", "middle").attr("font-size", 22).text(col.title);

  col.panels.forEach(function(p, pi) {
    var top = panelTop + pi * panelH, bottom = top + panelH;
    var y = d3.scaleLinear().domain(p.domain).range([bottom, top]);
    var clipId = "clip" + ci + "_" + pi;
    defs.append("clipPath").attr("id", clipId).append("rect")
      .attr("x", col.x0).attr("y", top).attr("width", col.x1 - col.x0).attr("height", panelH);
    var plot = g.append("g").attr("clip-path", "url(#" + clipId + ")");

    if (p.dashes) {
      plot.selectAll(".dash").data(p.dashes).enter().append("line")
        .attr("x1", col.x0).attr("x2", col.x1)
        .attr("y1", d => y(d)).attr("y2", d => y(d))
        .attr("stroke", "#7a7a7a").attr("stroke-width", 1).attr("stroke-dasharray", "3,2");
    }

    if (p.kind == "area") {
      var area = d3.area().x(d => toX(d[0])).y0(y(0)).y1(d => y(d[1]));
      plot.append("path").datum(p.data).attr("d", area)
        .attr("fill", p.color).attr("stroke", p.color).attr("stroke-width", 1.2);
    } else if (p.kind == "dots") {
      plot.selectAll("circle").data(p.data).enter().append("circle")
        .attr("cx", d => toX(d[0])).attr("cy", d => y(d[1])).attr("r", 2.6).attr("fill", "#000");
    } else if (p.kind == "squares") {
      plot.selectAll("rect").data(p.data).enter().append("rect")
        .attr("x", d => toX(d[0]) - 2.4).attr("y", d => y(d[1]) - 2.4)
        .attr("width", 4.8).attr("height", 4.8)
        .attr("fill", "none").attr("stroke", "#7c86d6").attr("stroke-width", 0.9).attr("opacity", 0.9);
    } else if (p.kind == "line") {
      var line = d3.line().x(d => toX(d[0])).y(d => y(d[1]));
      plot.append("path").datum(p.data).attr("d", line)
        .attr("fill", "none").attr("stroke", "#2fbf2f").attr("stroke-width", 1);
    } else if (p.kind == "diamonds") {
      plot.selectAll("path.dm").data(p.data).enter().append("path").attr("class", "dm")
        .attr("d", d3.symbol().type(d3.symbolDiamond).size(26))
        .attr("transform", d => "translate(" + toX(d[0]) + "," + y(d[1]) + ")")
        .attr("fill", "#8e8e8e");
    }

    // frame
    g.append("rect").attr("x", col.x0).attr("y", top).attr("width", col.x1 - col.x0).attr("height", panelH)
      .attr("fill", "none").attr("stroke", "#000").attr("stroke-width", 1.3);

    // y ticks (inside, both sides)
    p.ticks.concat(p.minor).forEach(function(v, i) {
      var len = i < p.ticks.length ? 7 : 4;
      var yy = y(v);
      if (yy < top - 0.5 || yy > bottom + 0.5) return;
      g.append("line").attr("x1", col.x0).attr("x2", col.x0 + len).attr("y1", yy).attr("y2", yy).attr("stroke", "#000").attr("stroke-width", 1.2);
      g.append("line").attr("x1", col.x1).attr("x2", col.x1 - len).attr("y1", yy).attr("y2", yy).attr("stroke", "#000").attr("stroke-width", 1.2);
    });
    p.ticks.forEach(function(v, i) {
      g.append("text").attr("x", col.x0 - 9).attr("y", y(v)).attr("dy", "0.36em")
        .attr("text-anchor", "end").attr("font-size", 18).text(p.labels[i]);
    });

    // x ticks along the bottom of each panel (and top of first panel)
    halfTicks.forEach(function(t) {
      var xx = x(t), len = t.getSeconds() == 0 ? 6 : 4;
      g.append("line").attr("x1", xx).attr("x2", xx).attr("y1", bottom).attr("y2", bottom - len).attr("stroke", "#000").attr("stroke-width", 1.2);
      if (pi == 0) g.append("line").attr("x1", xx).attr("x2", xx).attr("y1", top).attr("y2", top + len).attr("stroke", "#000").attr("stroke-width", 1.2);
    });

    // y title
    var yt = yTitles[pi];
    var tx = pi == 6 ? col.mceTitleX : col.titleX;
    var fsz = yt.serif ? 16 : (pi == 6 ? 20 : 18);
    var tt = g.append("text").attr("transform", "translate(" + tx + "," + yt.cy + ") rotate(-90)")
      .attr("text-anchor", "middle").attr("font-size", fsz);
    if (yt.serif) tt.style("font-family", "'Liberation Serif', 'DejaVu Serif', serif");
    rich(tt, yt.parts, fsz);

    // right-hand label
    var ly = [top + 26, top + 26, bottom - 7, top + 27, bottom - 10, bottom - 7, top + 19][pi];
    g.append("text").attr("x", col.x1 - col.rightPad).attr("y", ly).attr("text-anchor", "end")
      .attr("font-size", 22).text(sideLabels[pi]);

    // legends
    var ls = legendSym[pi];
    if (p.kind == "area") {
      g.append("rect").attr("x", col.x0 + 8).attr("y", top + 3.5).attr("width", 45).attr("height", 22)
        .attr("fill", p.color).attr("stroke", "#333").attr("stroke-width", 0.8);
      rich(g.append("text").attr("x", col.x0 + 59).attr("y", top + 21).attr("font-size", 20), [[ls[0]], [ls[1], "sub"]], 20);
    } else if (p.kind == "line") {
      g.append("line").attr("x1", col.x0 + 8).attr("x2", col.x0 + 54).attr("y1", bottom - 16).attr("y2", bottom - 16)
        .attr("stroke", "#2fbf2f").attr("stroke-width", 1);
      rich(g.append("text").attr("x", col.x0 + 62).attr("y", bottom - 10).attr("font-size", 20), [[ls[0]], [ls[1], "sub"]], 20);
    } else if (p.kind == "dots") {
      g.append("circle").attr("cx", col.x0 + col.ssaDot).attr("cy", bottom - 21).attr("r", 2.6).attr("fill", "#000");
      g.append("text").attr("x", col.x0 + col.ssaText - 6).attr("y", bottom - 15).attr("font-size", 17)
        .style("font-family", "'Liberation Serif', 'DejaVu Serif', serif").text("ω");
    } else if (p.kind == "squares") {
      g.append("rect").attr("x", col.x0 + col.diaSq - 2.4).attr("y", bottom - 18.4).attr("width", 4.8).attr("height", 4.8)
        .attr("fill", "none").attr("stroke", "#7c86d6").attr("stroke-width", 0.9);
      rich(g.append("text").attr("x", col.x0 + col.diaText).attr("y", bottom - 8).attr("font-size", 20), [["D"], ["g", "sub"]], 20);
    } else if (p.kind == "diamonds") {
      if (col.mceSym) {
        g.append("path").attr("d", d3.symbol().type(d3.symbolDiamond).size(26)())
          .attr("transform", "translate(" + (col.x0 + col.mceSym) + "," + (bottom - 10) + ")").attr("fill", "#8e8e8e");
      }
      g.append("text").attr("x", col.x0 + col.mceText).attr("y", bottom - 2).attr("font-size", 22).text("MCE");
      col.zones.forEach(function(z) {
        g.append("text").attr("x", z[0]).attr("y", z[1]).attr("text-anchor", "middle").attr("font-size", 18).text(z[2]);
      });
    }
  });

  // time labels top and bottom
  var fmt = d3.timeFormat("%H:%M");
  var minutes = x.ticks(d3.timeMinute.every(1));
  var bottomY = panelTop + 7 * panelH;
  minutes.forEach(function(t) {
    g.append("text").attr("x", x(t)).attr("y", 58.5).attr("text-anchor", "middle").attr("font-size", 18).text(fmt(t));
    g.append("text").attr("x", x(t)).attr("y", bottomY + 28.5).attr("text-anchor", "middle").attr("font-size", 18).text(fmt(t));
  });
  g.append("text").attr("x", (col.x0 + col.x1) / 2 - 3).attr("y", 765).attr("text-anchor", "middle")
    .attr("font-size", 20).text("Time (LST)");
});
</script>
</body>
</html>
